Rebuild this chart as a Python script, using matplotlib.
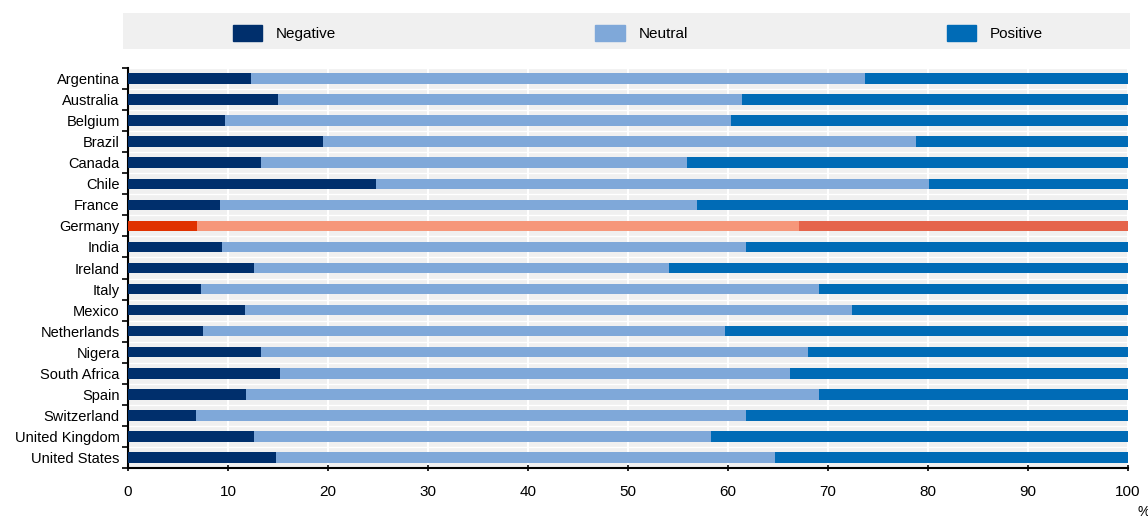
import numpy as np
import matplotlib
matplotlib.use("Agg")
from matplotlib import pyplot as plt
from matplotlib.patches import Rectangle, Patch

plt.rcParams['font.family'] = ['Liberation Sans', 'DejaVu Sans']

countries = ["Argentina", "Australia", "Belgium", "Brazil", "Canada", "Chile", "France",
             "Germany", "India", "Ireland", "Italy", "Mexico", "Netherlands", "Nigera",
             "South Africa", "Spain", "Switzerland", "United Kingdom", "United States"]
negative = [12.3, 15.0, 9.7, 19.5, 13.3, 24.8, 9.2, 6.9, 9.4, 12.6, 7.3, 11.7, 7.5, 13.3,
            15.2, 11.8, 6.8, 12.6, 14.8]
neutral = [61.4, 46.4, 50.6, 59.3, 42.6, 55.3, 47.7, 60.2, 52.4, 41.5, 61.8, 60.7, 52.2, 54.7,
           51.0, 57.3, 55.0, 45.7, 49.9]
positive = [26.3, 38.6, 39.7, 21.2, 44.1, 19.9, 43.1, 32.9, 38.2, 45.9, 30.9, 27.6, 40.3, 32.0,
            33.8, 30.9, 38.2, 41.7, 35.3]
x_ticks = [0, 10, 20, 30, 40, 50, 60, 70, 80, 90, 100]

# colours: normal rows and the highlighted one (Germany)
col_neg, col_neu, col_pos = "#002F6C", "#7FA8D9", "#006BB6"
hi_neg, hi_neu, hi_pos = "#E03200", "#F6977A", "#E5644B"
highlight = "Germany"

fig = plt.figure(figsize=(11.48, 5.19), dpi=100)
ax = fig.add_axes([128/1148, 1 - 468/519, 1000/1148, 400/519])
ax.set_facecolor("#F0F0F0")

y = np.arange(len(countries))
neg = np.array(negative)
neu = np.array(neutral)
pos = np.array(positive)
c1 = [hi_neg if c == highlight else col_neg for c in countries]
c2 = [hi_neu if c == highlight else col_neu for c in countries]
c3 = [hi_pos if c == highlight else col_pos for c in countries]
h = 0.5
ax.barh(y, neg, height=h, color=c1, zorder=3)
ax.barh(y, neu, left=neg, height=h, color=c2, zorder=3)
ax.barh(y, pos, left=neg + neu, height=h, color=c3, zorder=3)

ax.set_xlim(0, 100)
ax.set_ylim(len(countries) - 0.5, -0.5)
ax.set_xticks(x_ticks)
ax.set_yticks(y)
ax.set_yticklabels(countries, fontsize=10.5)
ax.set_yticks(np.arange(-0.5, len(countries), 1), minor=True)
ax.tick_params(axis='y', which='major', length=0, pad=6)
ax.tick_params(axis='y', which='minor', length=4, width=1.2, direction='out')
ax.tick_params(axis='x', labelsize=11, length=4, width=1.2, direction='inout', pad=10)

ax.grid(axis='x', color='white', linewidth=1.5, zorder=1)
ax.grid(axis='y', which='minor', color='white', linewidth=1.0, zorder=1)
ax.set_axisbelow(True)
for s in ["top", "right"]:
    ax.spines[s].set_visible(False)
ax.spines["left"].set_linewidth(1.5)
ax.spines["bottom"].set_linewidth(1.5)

# legend band
fig.patches.append(Rectangle((123/1148, 1 - 49/519), 1007/1148, 36/519,
                             transform=fig.transFigure, facecolor="#F0F0F0",
                             edgecolor="none", zorder=0))
handles = [Patch(color=col_neg, label="Negative"),
           Patch(color=col_neu, label="Neutral"),
           Patch(color=col_pos, label="Positive")]
fig.legend(handles=handles, loc="center", bbox_to_anchor=(638/1148, 1 - 33/519),
           ncol=3, frameon=False, fontsize=11, handlelength=1.9, handleheight=1.3,
           handletextpad=0.9, columnspacing=17.0)

fig.text(1137/1148, 1 - 512/519, "%", fontsize=10, ha="left", va="center")

fig.savefig("out.png", dpi=100)
